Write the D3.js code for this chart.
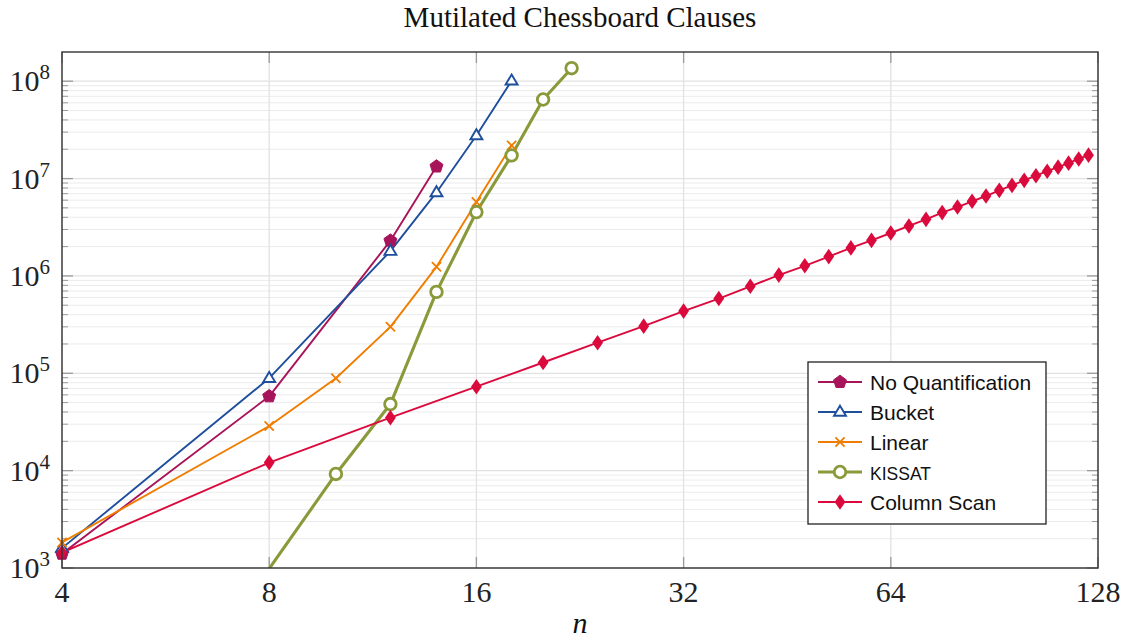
<!DOCTYPE html>
<html>
<head>
<meta charset="utf-8">
<script src="https://cdn.jsdelivr.net/npm/d3@7"></script>
<style>
  body { margin: 0; background: #fff; }
  svg { display: block; }
</style>
</head>
<body>
<svg id="vis"></svg>
<script>

// data
var noQuantN = [4, 8, 12, 14];
var noQuantY = [1.4e3, 5.8e4, 2.3e6, 1.33e7];

var bucketN = [4, 8, 12, 14, 16, 18];
var bucketY = [1.6e3, 8.9e4, 1.8e6, 7.2e6, 2.77e7, 1.01e8];

var linearN = [4, 8, 10, 12, 14, 16, 18];
var linearY = [1.83e3, 2.87e4, 8.9e4, 3.0e5, 1.24e6, 5.74e6, 2.19e7];

var kissatN = [8, 10, 12, 14, 16, 18, 20, 22];
var kissatY = [985, 9.25e3, 4.83e4, 6.85e5, 4.53e6, 1.73e7, 6.49e7, 1.36e8];

var colScanN = [4, 8, 12, 16, 20, 24, 28, 32, 36, 40, 44, 48, 52, 56, 60, 64,
    68, 72, 76, 80, 84, 88, 92, 96, 100, 104, 108, 112, 116, 120, 124];
var colScanY = [1.44e3, 1.21e4, 3.5e4, 7.28e4, 1.29e5, 2.06e5, 3.05e5, 4.35e5,
    5.86e5, 7.83e5, 1.02e6, 1.27e6, 1.58e6, 1.94e6, 2.32e6, 2.76e6, 3.26e6,
    3.81e6, 4.47e6, 5.1e6, 5.84e6, 6.62e6, 7.57e6, 8.51e6, 9.59e6, 1.07e7,
    1.19e7, 1.31e7, 1.44e7, 1.59e7, 1.74e7];

var xTicks = [4, 8, 16, 32, 64, 128];
var yExps = [3, 4, 5, 6, 7, 8];

var series = [
    {label: "No Quantification", n: noQuantN, v: noQuantY, color: "#a8145a", mark: "pentagon", lw: 1.9},
    {label: "Bucket", n: bucketN, v: bucketY, color: "#1f4f9c", mark: "triangle", lw: 1.9},
    {label: "Linear", n: linearN, v: linearY, color: "#f07d00", mark: "cross", lw: 1.9},
    {label: "KISSAT", n: kissatN, v: kissatY, color: "#8a9a3a", mark: "circle", lw: 3.1},
    {label: "Column Scan", n: colScanN, v: colScanY, color: "#db0a3c", mark: "diamond", lw: 1.9}
];


var W = 1129, H = 640;
var margin = {top: 52, right: 31, bottom: 72, left: 62},
    width = W - margin.left - margin.right,
    height = H - margin.top - margin.bottom;

var svg = d3.select("#vis")
    .attr("width", W)
    .attr("height", H);

var x = d3.scaleLog().base(2)
    .domain([4, 128])
    .range([0, width]);
var y = d3.scaleLog()
    .domain([1e3, Math.pow(10, 8.3)])
    .range([height, 0]);

var g = svg.append("g")
    .attr("transform", "translate(" + margin.left + "," + margin.top + ")");

svg.append("defs")
    .append("clipPath")
    .attr("id", "clip")
    .append("rect")
    .attr("width", width)
    .attr("height", height);

// minor y values 2..9 x 10^k
var yMinor = [];
yExps.forEach(function(k) {
    for (var m = 2; m <= 9; m++) {
        var v = m * Math.pow(10, k);
        if (v <= y.domain()[1]) yMinor.push(v);
    }
});
var yMajor = yExps.map(function(k) { return Math.pow(10, k); });

//grid
g.append("g").selectAll("line")
    .data(yMinor)
    .enter().append("line")
    .attr("x1", 0).attr("x2", width)
    .attr("y1", function(d) { return y(d); })
    .attr("y2", function(d) { return y(d); })
    .attr("stroke", "#ebebeb")
    .attr("stroke-width", 1);

g.append("g").selectAll("line")
    .data(yMajor)
    .enter().append("line")
    .attr("x1", 0).attr("x2", width)
    .attr("y1", function(d) { return y(d); })
    .attr("y2", function(d) { return y(d); })
    .attr("stroke", "#e2e2e2")
    .attr("stroke-width", 1.3);

g.append("g").selectAll("line")
    .data(xTicks)
    .enter().append("line")
    .attr("x1", function(d) { return x(d); })
    .attr("x2", function(d) { return x(d); })
    .attr("y1", 0).attr("y2", height)
    .attr("stroke", "#e2e2e2")
    .attr("stroke-width", 1.3);

// tick marks (inside, both sides)
function tickMarks(vals, len, sw) {
    var t = g.append("g");
    vals.forEach(function(d) {
        t.append("line").attr("x1", 0).attr("x2", len)
            .attr("y1", y(d)).attr("y2", y(d))
            .attr("stroke", "#9a9a9a").attr("stroke-width", sw);
        t.append("line").attr("x1", width).attr("x2", width - len)
            .attr("y1", y(d)).attr("y2", y(d))
            .attr("stroke", "#9a9a9a").attr("stroke-width", sw);
    });
}
tickMarks(yMinor, 6, 1);
tickMarks(yMajor, 11, 1.3);

xTicks.forEach(function(d) {
    g.append("line").attr("x1", x(d)).attr("x2", x(d))
        .attr("y1", 0).attr("y2", 11)
        .attr("stroke", "#9a9a9a").attr("stroke-width", 1.3);
    g.append("line").attr("x1", x(d)).attr("x2", x(d))
        .attr("y1", height).attr("y2", height - 11)
        .attr("stroke", "#9a9a9a").attr("stroke-width", 1.3);
});

//lines
var line = d3.line()
    .x(function(d) { return x(d[0]); })
    .y(function(d) { return y(d[1]); });

var plot = g.append("g").attr("clip-path", "url(#clip)");

series.forEach(function(s) {
    s.pts = s.n.map(function(n, i) { return [n, s.v[i]]; });
    plot.append("path")
        .datum(s.pts)
        .attr("d", line)
        .attr("fill", "none")
        .attr("stroke", s.color)
        .attr("stroke-width", s.lw)
        .attr("stroke-linejoin", "round");
});

// marker shapes
function drawMark(sel, type, color) {
    if (type == "pentagon") {
        var r = 6.8, p = [];
        for (var i = 0; i < 5; i++) {
            var a = -Math.PI / 2 + i * 2 * Math.PI / 5;
            p.push([r * Math.cos(a), r * Math.sin(a)]);
        }
        sel.append("polygon").attr("points", p.join(" "))
            .attr("fill", color).attr("stroke", color).attr("stroke-width", 1);
    } else if (type == "triangle") {
        var t = 6.3;
        sel.append("polygon")
            .attr("points", [[0, -t], [t * 0.95, t * 0.6], [-t * 0.95, t * 0.6]].join(" "))
            .attr("fill", "white").attr("stroke", color).attr("stroke-width", 1.9);
    } else if (type == "cross") {
        var c = 4.6;
        sel.append("path").attr("d", "M" + (-c) + "," + (-c) + "L" + c + "," + c + "M" + (-c) + "," + c + "L" + c + "," + (-c))
            .attr("stroke", color).attr("stroke-width", 1.8);
    } else if (type == "circle") {
        sel.append("circle").attr("r", 5.8)
            .attr("fill", "white").attr("stroke", color).attr("stroke-width", 2.8);
    } else if (type == "diamond") {
        sel.append("polygon").attr("points", [[0, -7.8], [5.4, 0], [0, 7.8], [-5.4, 0]].join(" "))
            .attr("fill", color);
    }
}

series.forEach(function(s) {
    var inside = s.pts.filter(function(d) { return d[1] >= y.domain()[0]; });
    var mg = g.append("g").selectAll("g")
        .data(inside)
        .enter().append("g")
        .attr("transform", function(d) { return "translate(" + x(d[0]) + "," + y(d[1]) + ")"; });
    mg.each(function() { drawMark(d3.select(this), s.mark, s.color); });
});

// frame
g.append("rect")
    .attr("width", width).attr("height", height)
    .attr("fill", "none").attr("stroke", "#333").attr("stroke-width", 1.4);

//tick labels
g.append("g").selectAll("text")
    .data(xTicks)
    .enter().append("text")
    .attr("x", function(d) { return x(d); })
    .attr("y", height + 34)
    .attr("text-anchor", "middle")
    .style("font-family", "'Liberation Serif', serif")
    .style("font-size", "30px")
    .attr("fill", "#222")
    .text(function(d) { return d; });

var yl = g.append("g").selectAll("text")
    .data(yExps)
    .enter().append("text")
    .attr("x", -12)
    .attr("y", function(d) { return y(Math.pow(10, d)) + 10; })
    .attr("text-anchor", "end")
    .style("font-family", "'Liberation Serif', serif")
    .style("font-size", "30px")
    .attr("fill", "#222");
yl.append("tspan").text("10");
yl.append("tspan").attr("dy", -12).style("font-size", "21px")
    .text(function(d) { return d; });

//title and axis label
svg.append("text")
    .attr("x", margin.left + width / 2)
    .attr("y", 27)
    .attr("text-anchor", "middle")
    .style("font-family", "'Liberation Serif', serif")
    .style("font-size", "29px")
    .attr("fill", "#111")
    .text("Mutilated Chessboard Clauses");

svg.append("text")
    .attr("x", margin.left + width / 2)
    .attr("y", 633)
    .attr("text-anchor", "middle")
    .style("font-family", "'Liberation Serif', serif")
    .style("font-style", "italic")
    .style("font-size", "30px")
    .attr("fill", "#111")
    .text("n");

//legend
var leg = svg.append("g").attr("transform", "translate(808,362)");
leg.append("rect")
    .attr("width", 238).attr("height", 162)
    .attr("fill", "white").attr("stroke", "#222").attr("stroke-width", 1.3);

var rows = leg.selectAll("g.row")
    .data(series)
    .enter().append("g")
    .attr("class", "row")
    .attr("transform", function(d, i) { return "translate(0," + (20 + i * 30) + ")"; });

rows.append("line")
    .attr("x1", 10).attr("x2", 54)
    .attr("stroke", function(d) { return d.color; })
    .attr("stroke-width", function(d) { return d.lw; });
rows.each(function(d) {
    var m = d3.select(this).append("g").attr("transform", "translate(32,0)");
    drawMark(m, d.mark, d.color);
});
rows.append("text")
    .attr("x", 62)
    .attr("y", 7.5)
    .style("font-family", "'Liberation Sans', Arial, sans-serif")
    .style("font-size", function(d) { return d.label == "KISSAT" ? "17.5px" : "21px"; })
    .attr("fill", "#111")
    .text(function(d) { return d.label; });

</script>
</body>
</html>
